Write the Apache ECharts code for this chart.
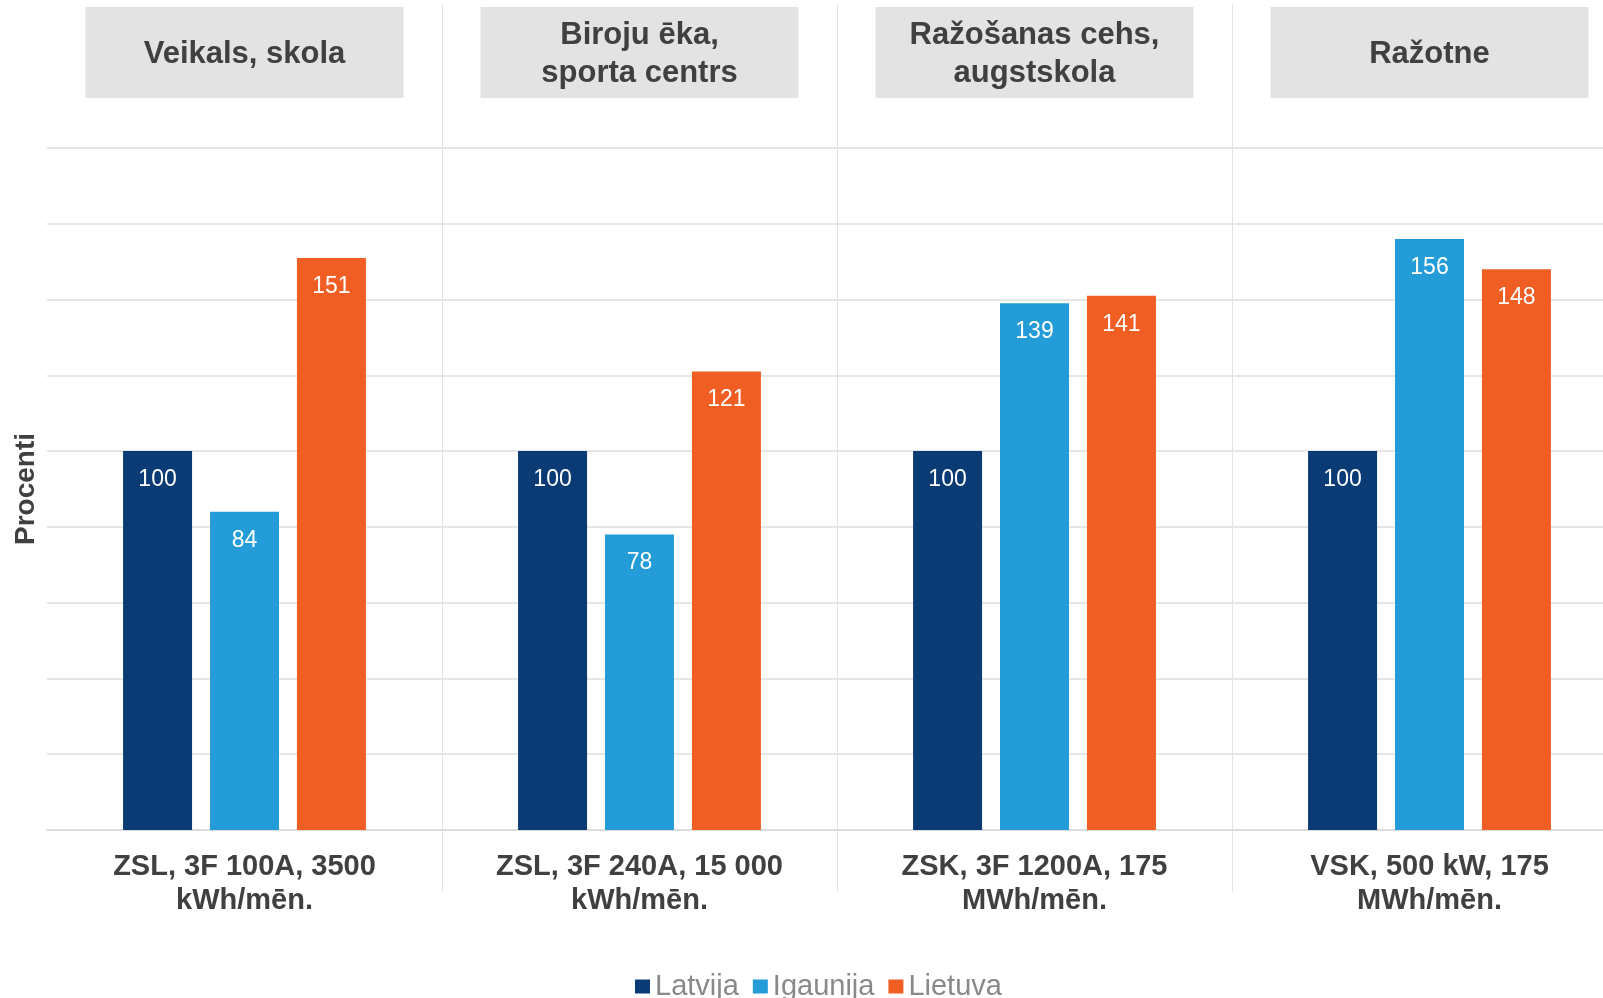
<!DOCTYPE html>
<html>
<head>
<meta charset="utf-8">
<script src="https://cdn.jsdelivr.net/npm/echarts@6/dist/echarts.min.js"></script>
<style>
  html, body { margin: 0; padding: 0; background: #fff; }
  #main { width: 1603px; height: 998px; }
</style>
</head>
<body>
<div id="main"></div>
<script>
// categories (bottom) and segment headers (top)
const categories = ['ZSL, 3F 100A, 3500\nkWh/mēn.', 'ZSL, 3F 240A, 15 000\nkWh/mēn.', 'ZSK, 3F 1200A, 175\nMWh/mēn.', 'VSK, 500 kW, 175\nMWh/mēn.'];
const headers = ['Veikals, skola', 'Biroju ēka,\nsporta centrs', 'Ražošanas cehs,\naugstskola', 'Ražotne'];
const seriesNames = ['Latvija', 'Igaunija', 'Lietuva'];
const latvija = [100, 100, 100, 100];
const igaunija = [84, 78, 139, 156];
const lietuva = [151, 121, 141, 148];
const colors = ['#0A3B75', '#239CD8', '#F15E23'];

const FONT = "'Liberation Sans', Arial, sans-serif";
const chart = echarts.init(document.getElementById('main'));

function bar(name, data, color) {
  return {
    name: name,
    type: 'bar',
    data: data,
    barWidth: 69,
    barGap: '26%',
    itemStyle: { color: color },
    label: {
      show: true,
      position: 'insideTop',
      distance: 17,
      color: '#fff',
      fontSize: 23,
      fontFamily: FONT
    }
  };
}

const option = {
  animation: false,
  color: colors,
  // the plot runs past the right edge of the picture
  grid: { left: 47, width: 1580, top: 148, bottom: 168, outerBoundsMode: 'none', containLabel: false },
  legend: {
    data: seriesNames,
    left: 630,
    top: 967,
    itemWidth: 15,
    itemHeight: 14,
    itemGap: 14,
    icon: 'rect',
    textStyle: { fontSize: 29, color: '#898989', fontFamily: FONT }
  },
  xAxis: [
    {
      type: 'category',
      data: categories,
      position: 'bottom',
      axisLine: { lineStyle: { color: '#dcdcdc', width: 2 } },
      axisTick: { show: false },
      axisLabel: {
        interval: 0,
        margin: 20,
        fontSize: 29,
        fontWeight: 'bold',
        lineHeight: 34,
        color: '#404040',
        fontFamily: FONT
      }
    },
    {
      type: 'category',
      data: headers.map(function (h) {
        const two = h.indexOf('\n') >= 0;
        return { value: h, textStyle: { padding: two ? [9, 0, 6, 0] : [28, 0, 25, 0] } };
      }),
      position: 'top',
      axisLine: { show: false },
      axisTick: { show: false },
      axisLabel: {
        interval: 0,
        margin: 50,
        width: 318,
        align: 'center',
        fontSize: 31,
        fontWeight: 'bold',
        lineHeight: 38,
        color: '#404040',
        backgroundColor: '#e3e3e3',
        fontFamily: FONT
      }
    }
  ],
  yAxis: {
    type: 'value',
    min: 0,
    max: 180,
    interval: 20,
    name: 'Procenti',
    nameLocation: 'middle',
    nameGap: 7,
    nameTextStyle: { fontSize: 28, fontWeight: 'bold', color: '#404040', fontFamily: FONT },
    axisLabel: { show: false },
    axisLine: { show: false },
    axisTick: { show: false },
    splitLine: { lineStyle: { color: '#e6e6e6', width: 2 } }
  },
  series: [
    bar(seriesNames[0], latvija, colors[0]),
    bar(seriesNames[1], igaunija, colors[1]),
    bar(seriesNames[2], lietuva, colors[2])
  ]
};
chart.setOption(option);

// vertical separators between the groups, placed from the axis scale
const sep = [];
for (let i = 0; i < categories.length - 1; i++) {
  const a = chart.convertToPixel({ xAxisIndex: 0 }, i);
  const b = chart.convertToPixel({ xAxisIndex: 0 }, i + 1);
  const x = Math.round((a + b) / 2) + 0.5;
  sep.push({
    type: 'line',
    silent: true,
    z: -1,
    shape: { x1: x, y1: 4, x2: x, y2: 892 },
    style: { stroke: '#e3e3e3', lineWidth: 1 }
  });
}
chart.setOption({ graphic: sep });
</script>
</body>
</html>
